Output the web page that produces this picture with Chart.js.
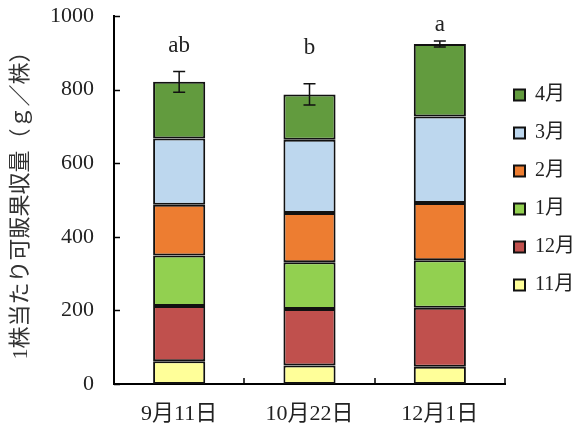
<!DOCTYPE html>
<html><head><meta charset="utf-8">
<script src="https://cdn.jsdelivr.net/npm/chart.js@4/dist/chart.umd.min.js"></script>
<style>html,body{margin:0;padding:0;background:#fff}#wrap{width:576px;height:428px}</style>
</head><body><div id="wrap"><canvas id="c" width="576" height="428"></canvas></div>
<script>
const categories = ['9月11日', '10月22日', '12月1日'];
const seriesNames = ['11月', '12月', '1月', '2月', '3月', '4月'];
const v11 = [62, 50, 47];
const v12 = [150, 154, 160];
const v1 = [137, 127, 129];
const v2 = [138, 134, 156];
const v3 = [180, 199, 235];
const v4 = [154, 123, 197];
const errors = [28, 29, 8];
const letters = ['ab', 'b', 'a'];
const letterValues = [918, 912, 975];
const yTicks = [0, 200, 400, 600, 800, 1000];

const colors = ['#FFFF99', '#C0504D', '#92D050', '#ED7D31', '#BDD7EE', '#629B3E'];
const FONT = "'Liberation Serif', 'Noto Sans CJK JP', serif";

const values = [v11, v12, v1, v2, v3, v4];
const datasets = seriesNames.map((n, i) => ({
  label: n, data: values[i], backgroundColor: colors[i],
  borderColor: '#111', borderWidth: 2, borderSkipped: false,
  barPercentage: 0.4, categoryPercentage: 1
}));

const totals = categories.map((_, j) => values.reduce((s, a) => s + a[j], 0));

const legendShift = {
  id: 'legendShift',
  afterLayout(chart) {
    const lg = chart.legend;
    lg.left -= 9; lg.width += 9; lg.top -= 32; lg.bottom -= 32;
  }
};

const extras = {
  id: 'extras',
  afterDatasetsDraw(chart) {
    const ctx = chart.ctx, x = chart.scales.x, y = chart.scales.y, ca = chart.chartArea;
    ctx.save();
    ctx.strokeStyle = '#000'; ctx.lineWidth = 1.5;
    yTicks.forEach(t => {
      const py = Math.round(y.getPixelForValue(t)) + 0.5;
      ctx.beginPath(); ctx.moveTo(ca.left, py); ctx.lineTo(ca.left + 6, py); ctx.stroke();
    });
    const half = (x.getPixelForValue(1) - x.getPixelForValue(0)) / 2;
    categories.forEach((_, i) => {
      const px = Math.round(x.getPixelForValue(i) + half);
      ctx.beginPath(); ctx.moveTo(px, ca.bottom); ctx.lineTo(px, ca.bottom - 6); ctx.stroke();
    });
    ctx.lineWidth = 1.5; ctx.strokeStyle = '#111';
    categories.forEach((_, i) => {
      const px = x.getPixelForValue(i);
      const top = y.getPixelForValue(totals[i] + errors[i]);
      const bot = y.getPixelForValue(totals[i] - errors[i]);
      ctx.beginPath();
      ctx.moveTo(px, top); ctx.lineTo(px, bot);
      ctx.moveTo(px - 6, top); ctx.lineTo(px + 6, top);
      ctx.moveTo(px - 6, bot); ctx.lineTo(px + 6, bot);
      ctx.stroke();
    });
    ctx.fillStyle = '#222'; ctx.font = "23px " + FONT;
    ctx.textAlign = 'center'; ctx.textBaseline = 'middle';
    categories.forEach((_, i) => {
      ctx.fillText(letters[i], x.getPixelForValue(i), y.getPixelForValue(letterValues[i]));
    });
    ctx.restore();
  }
};

new Chart(document.getElementById('c'), {
  type: 'bar',
  data: { labels: categories, datasets },
  options: {
    responsive: false, animation: false,
    layout: { padding: { top: 16, left: 0, right: 0, bottom: 0 } },
    plugins: {
      legend: {
        position: 'right', reverse: true, maxWidth: 71,
        labels: { boxWidth: 11, boxHeight: 11, padding: 18, color: '#222', font: { family: FONT, size: 20 } }
      },
      tooltip: { enabled: false }
    },
    scales: {
      x: {
        stacked: true,
        grid: { display: false, drawTicks: false },
        border: { color: '#000', width: 2 },
        ticks: { color: '#222', padding: 17, font: { family: FONT, size: 22 } },
        afterFit(s) { s.height = 44; s.paddingLeft = 0; s.paddingRight = 0; }
      },
      y: {
        stacked: true, min: 0, max: 1000,
        afterBuildTicks(s) { s.ticks = yTicks.map(v => ({ value: v })); },
        grid: { display: false, drawTicks: false },
        border: { color: '#000', width: 2 },
        ticks: { color: '#222', padding: 20, font: { family: FONT, size: 22 }, callback: v => String(v) },
        title: { display: true, text: '1株当たり可販果収量（ｇ／株）', color: '#333', padding: { top: 8, bottom: 0 }, font: { family: FONT, size: 22 } },
        afterFit(s) { s.width = 114; s.paddingTop = 0; s.paddingBottom = 0; }
      }
    }
  },
  plugins: [extras, legendShift]
});
</script></body></html>
